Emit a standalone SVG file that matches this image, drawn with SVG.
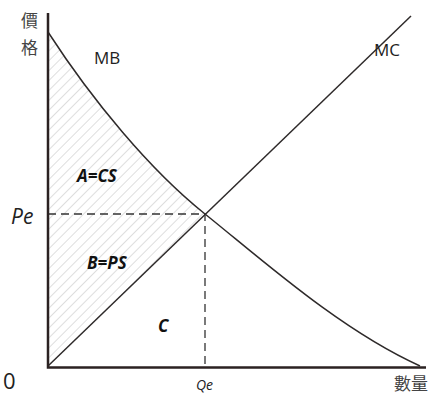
<svg xmlns="http://www.w3.org/2000/svg" width="436" height="394" viewBox="0 0 436 394">
<style>
.axis{stroke:#2b2222;stroke-width:2.5;fill:none}
.curve{stroke:#2e2a2a;stroke-width:1.5;fill:none}
.dash{stroke:#333;stroke-width:1.3;stroke-dasharray:8,5;fill:none}
.cjk{font-family:"Noto Sans CJK TC","Noto Sans CJK SC",sans-serif;fill:#444;font-size:17px}
.lab{font-family:"Open Sans","Liberation Sans",sans-serif;fill:#222}
.area{font-family:"Open Sans","Liberation Sans",sans-serif;font-weight:bold;font-style:italic;fill:#111;font-size:17px}
</style>
<defs>
<pattern id="hatch" width="7" height="7" patternUnits="userSpaceOnUse" patternTransform="rotate(45)">
<line x1="0" y1="0" x2="0" y2="7" stroke="#c8c8c8" stroke-width="1.2"/>
</pattern>
</defs>
<g id="surplus">
<path d="M48,32 C92,100 150,170 205,214 L48,366 Z" fill="url(#hatch)"/>
</g>
<g id="connectors">
<path class="dash" d="M48,214 H205 V366"/>
<path id="MB-curve" class="curve" d="M48,32 C92,100 150,170 205,214 S340,330 420,366"/>
<path id="MC-line" class="curve" d="M48,366 L411,16"/>
</g>
<g id="axes">
<path class="axis" d="M48,13 V367.5 H426"/>
</g>
<g id="labels">
<text class="cjk" x="21" y="27">價</text>
<text class="cjk" x="21" y="54">格</text>
<text class="lab" x="94" y="64" font-size="17">MB</text>
<text class="lab" x="374" y="56" font-size="17">MC</text>
<text class="lab" x="11" y="224" font-size="21" font-style="italic">Pe</text>
<text class="lab" x="3" y="389" font-size="22">0</text>
<text class="lab" x="196" y="390" font-size="14" font-style="italic">Qe</text>
<text class="cjk" x="394" y="390" font-size="18">數量</text>
<text class="area" x="77" y="182">A=CS</text>
<text class="area" x="87" y="269">B=PS</text>
<text class="area" x="158" y="332">C</text>
</g>
</svg>
